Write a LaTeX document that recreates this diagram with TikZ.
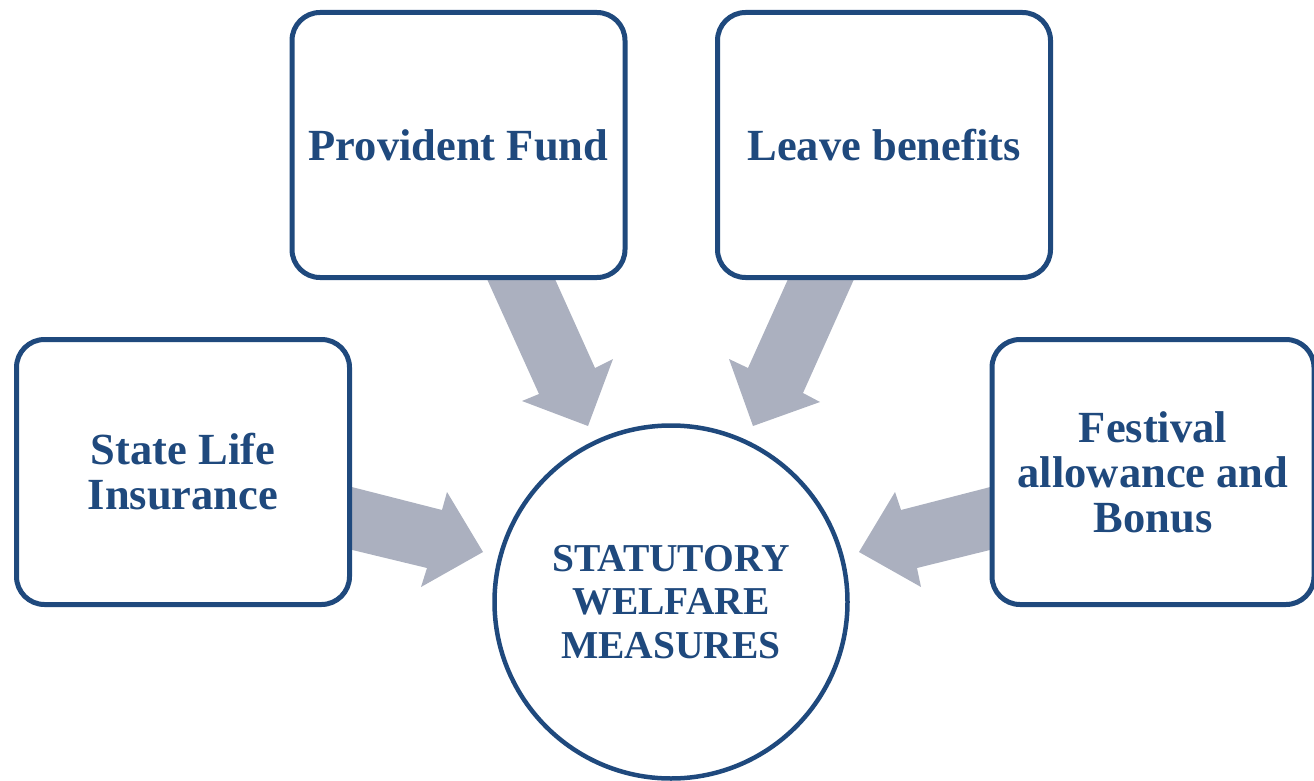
\documentclass[tikz,border=0pt]{standalone}
\usepackage{fontspec}
\setmainfont{Liberation Serif}
\definecolor{navy}{HTML}{1F497D}
\definecolor{arrowgray}{HTML}{ABB0BF}
\begin{document}
\begin{tikzpicture}[x=1pt,y=-1pt,
  box/.style={draw=navy, line width=5pt, fill=white, rounded corners=28pt,
    minimum width=333pt, minimum height=265pt, align=center, text=navy,
    font=\fontsize{44.5}{45}\selectfont\bfseries, inner sep=0pt},
  hub/.style={draw=navy, line width=4.5pt, fill=white, circle, minimum size=353pt,
    align=center, text=navy, font=\fontsize{39.5}{43.5}\selectfont\bfseries, inner sep=0pt},
  blockarrow/.style={fill=arrowgray, draw=none}]
\useasboundingbox (0,0) rectangle (1314,781);
\begin{scope}
\clip (0,0) rectangle (1314,781);
% block arrows (behind boxes)
\fill[blockarrow] (482,268) -- (550,268) -- (595,368) -- (613,359) -- (588,426) -- (522,401) -- (539,394) -- cycle;
\fill[blockarrow] (793,268) -- (859,268) -- (803,393) -- (820,402) -- (753,426) -- (729,359) -- (748,368) -- cycle;
\fill[blockarrow] (340,484) -- (442,510) -- (447,492) -- (483,552) -- (421,587) -- (427,568) -- (340,547) -- cycle;
\fill[blockarrow] (1002,484) -- (901,510) -- (895,492) -- (859,552) -- (921,587) -- (917,568) -- (1002,547) -- cycle;
% nodes
\node[box] (pf) at (458.5,145) {Provident Fund};
\node[box] (lb) at (884,145) {Leave benefits};
\node[box] (sli) at (183,472) {State Life\\Insurance};
\node[box, minimum width=322pt] (fab) at (1153,472) {Festival\\allowance and\\Bonus};
\node[hub] (swm) at (671,602) {STATUTORY\\WELFARE\\MEASURES};
\end{scope}
\end{tikzpicture}
\end{document}
